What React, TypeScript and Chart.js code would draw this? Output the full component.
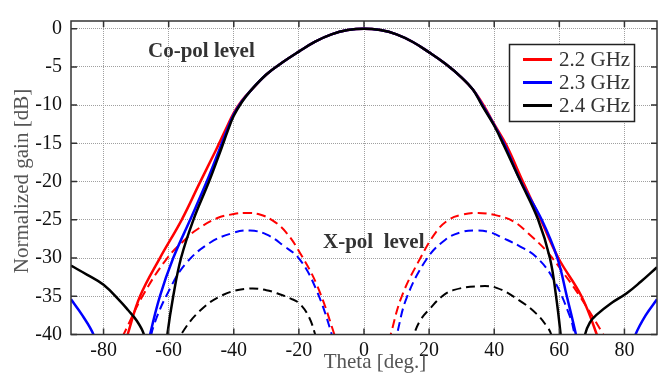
import { useEffect, useRef } from "react";
import { Chart, registerables } from "chart.js";
Chart.register(...registerables);

const xTicks = [-80, -60, -40, -20, 0, 20, 40, 60, 80];
const yTicks = [0, -5, -10, -15, -20, -25, -30, -35, -40];
const seriesLabels = ["2.2 GHz", "2.3 GHz", "2.4 GHz"];
const seriesColors = ["#ff0000", "#0000ff", "#000000"];

// Co-pol (solid)
const coTheta22 = [-75, -72.6, -68.8, -62.7, -56, -50.5, -45.5, -42.5, -40, -37.5, -35, -30, -25, -20, -15, -10, -5, 0, 5, 10, 15, 20, 25, 30, 33.5, 36.7, 40, 43.8, 48.8, 54.3, 59.7, 66.8, 71.5, 74];
const coGain22 = [-43.5, -40, -35, -30, -25, -20.2, -15.9, -13.2, -11.0, -9.4, -8.2, -6.0, -4.4, -3.0, -1.7, -0.75, -0.19, 0, -0.19, -0.75, -1.75, -3.1, -4.6, -6.4, -8.0, -10, -12.5, -15.3, -20, -25, -30, -35, -40, -43.5];

const coTheta23 = [-90, -86.5, -83.1, -82, -67, -65.7, -62.7, -58.6, -53.4, -48.3, -44.5, -42, -40, -37.5, -35, -30, -25, -20, -15, -10, -5, 0, 5, 10, 15, 20, 25, 30, 33.5, 36.4, 40, 43.3, 48.2, 54.6, 59.4, 62.3, 65.1, 66.5, 82, 83.4, 86.5, 90];
const coGain23 = [-35.4, -37.5, -40, -42, -43, -40, -35, -30, -25, -20, -15.9, -13.2, -11.2, -9.5, -8.2, -6.0, -4.4, -3.0, -1.7, -0.75, -0.19, 0, -0.19, -0.75, -1.75, -3.1, -4.6, -6.4, -8.0, -10, -12.6, -15.3, -20, -25, -30, -35, -40, -43, -42, -40, -37.5, -35.4];

const coTheta24 = [-90, -85, -80, -75, -72.5, -69.8, -67.6, -66.5, -61, -60.4, -58.6, -56.2, -52.4, -47.6, -44, -41.8, -40, -37.5, -35, -30, -25, -20, -15, -10, -5, 0, 5, 10, 15, 20, 25, 30, 33.5, 36.2, 40, 43, 48.1, 53.5, 57.1, 59, 60.4, 61, 66.8, 67.9, 69.4, 71.5, 75.6, 80.7, 85, 90];
const coGain24 = [-31, -32.2, -33.5, -35.6, -36.8, -38.2, -40, -43, -43, -40, -35, -30, -25, -20, -15.9, -13.3, -11.4, -9.6, -8.2, -6.0, -4.4, -3.0, -1.7, -0.75, -0.19, 0, -0.19, -0.75, -1.75, -3.1, -4.6, -6.4, -8.0, -10, -12.7, -15.3, -20, -25, -30, -35, -40, -43, -43, -40, -38.4, -37.4, -36.0, -34.6, -33.1, -31.2];

// X-pol (dashed)
const xTheta22 = [-76, -73.4, -67.8, -60.6, -55, -51.4, -45.2, -40, -36, -32, -28, -24, -19.7, -14.5, -9.1, -8, 7, 8.2, 11.6, 17.2, 22.3, 26, 29.5, 34.6, 40, 45.9, 50.5, 56.1, 61, 66.3, 73.5, 75];
const xGain22 = [-42, -39.6, -34.8, -30.1, -27.6, -26.3, -24.8, -24.25, -24.1, -24.3, -25.1, -26.6, -29.3, -33.5, -40, -42, -42, -40, -35, -30.1, -26.5, -25.0, -24.4, -24.1, -24.35, -25.2, -26.8, -29.1, -31.8, -35, -40, -41.3];

const xTheta23 = [-66, -64.7, -59.6, -54.5, -47.3, -40.1, -35, -30, -25, -19.7, -14.5, -9.9, -9, 9, 10.1, 13.1, 19.3, 25, 30, 34.1, 38.5, 42.8, 48, 53, 58.1, 63.3, 64.7, 65.5];
const xGain23 = [-42, -39, -34.0, -30.6, -28, -26.7, -26.4, -26.9, -28.3, -30.2, -34.3, -40, -42, -42, -40, -35.2, -30.1, -27.6, -26.6, -26.4, -26.6, -27.4, -28.5, -29.9, -32.7, -37.7, -40, -41.5];

const xTheta24 = [-57.5, -56.2, -50.4, -43.2, -35.5, -30, -26.8, -22.5, -19.7, -16.8, -15, -14, 14.2, 15.3, 17.5, 20.3, 24, 27.4, 34.6, 40.7, 47.9, 53, 56.6, 57.5, 58.5];
const xGain24 = [-41.5, -40, -36.9, -34.8, -34.0, -34.2, -34.6, -35.3, -36.0, -37.8, -40, -41.5, -41.5, -40, -38, -36.6, -35, -34.2, -33.7, -33.9, -35.6, -37.3, -39.2, -40, -41.5];

const SERIF = "'Liberation Serif', 'Times New Roman', serif";

function pts(t: number[], g: number[]) {
  return t.map((x, i) => ({ x, y: g[i] }));
}

export default function App() {
  const ref = useRef<HTMLCanvasElement>(null);
  useEffect(() => {
    document.body.style.margin = "0";
    const coSets = [pts(coTheta22, coGain22), pts(coTheta23, coGain23), pts(coTheta24, coGain24)];
    const xSets = [pts(xTheta22, xGain22), pts(xTheta23, xGain23), pts(xTheta24, xGain24)];
    const datasets: any[] = [];
    for (let i = 2; i >= 0; i--) {
      datasets.push({
        label: seriesLabels[i],
        data: coSets[i],
        borderColor: seriesColors[i],
        borderWidth: 2.5,
        pointRadius: 0,
        tension: 0.4,
        clip: 0,
      });
    }
    for (let i = 2; i >= 0; i--) {
      datasets.push({
        label: seriesLabels[i],
        data: xSets[i],
        borderColor: seriesColors[i],
        borderWidth: 2,
        borderDash: [9, 5],
        pointRadius: 0,
        tension: 0.4,
        clip: 0,
      });
    }

    const decor = {
      id: "decor",
      afterDraw(chart: any) {
        const ctx = chart.ctx as CanvasRenderingContext2D;
        const a = chart.chartArea;
        const xs = chart.scales.x;
        const ys = chart.scales.y;
        ctx.save();
        ctx.strokeStyle = "#333";
        ctx.lineWidth = 1.5;
        ctx.strokeRect(a.left, a.top, a.right - a.left, a.bottom - a.top);
        ctx.beginPath();
        const tl = 6;
        xTicks.forEach((v) => {
          const px = xs.getPixelForValue(v);
          ctx.moveTo(px, a.bottom);
          ctx.lineTo(px, a.bottom - tl);
          ctx.moveTo(px, a.top);
          ctx.lineTo(px, a.top + tl);
        });
        yTicks.forEach((v) => {
          const py = ys.getPixelForValue(v);
          ctx.moveTo(a.left, py);
          ctx.lineTo(a.left + tl, py);
          ctx.moveTo(a.right, py);
          ctx.lineTo(a.right - tl, py);
        });
        ctx.stroke();

        ctx.fillStyle = "#333";
        ctx.font = `bold 21px ${SERIF}`;
        ctx.textAlign = "left";
        ctx.textBaseline = "alphabetic";
        ctx.fillText("Co-pol level", 148, 56.5);
        ctx.fillText("X-pol  level", 323, 248);

        ctx.fillStyle = "#555";
        ctx.font = `21px ${SERIF}`;
        ctx.textAlign = "center";
        ctx.fillText("Theta [deg.]", 375, 368);
        ctx.save();
        ctx.translate(28, 181);
        ctx.rotate(-Math.PI / 2);
        ctx.fillText("Normalized gain [dB]", 0, 0);
        ctx.restore();

        const lx = 509.5, ly = 44.5, lw = 125, lh = 77;
        ctx.fillStyle = "#fff";
        ctx.fillRect(lx, ly, lw, lh);
        ctx.strokeStyle = "#222";
        ctx.lineWidth = 1.5;
        ctx.strokeRect(lx, ly, lw, lh);
        ctx.font = `21px ${SERIF}`;
        ctx.textAlign = "left";
        ctx.textBaseline = "middle";
        for (let i = 0; i < 3; i++) {
          const yy = 59.5 + i * 23;
          ctx.strokeStyle = seriesColors[i];
          ctx.lineWidth = 3;
          ctx.beginPath();
          ctx.moveTo(523, yy);
          ctx.lineTo(552, yy);
          ctx.stroke();
          ctx.fillStyle = "#333";
          ctx.fillText(seriesLabels[i], 559, yy + 1);
        }
        ctx.restore();
      },
    };

    const chart = new Chart(ref.current!, {
      type: "line",
      data: { datasets },
      plugins: [decor],
      options: {
        animation: false,
        responsive: false,
        maintainAspectRatio: false,
        parsing: false as any,
        layout: { padding: { top: 12, right: 7, left: 0, bottom: 0 } },
        plugins: { legend: { display: false }, tooltip: { enabled: false } },
        scales: {
          x: {
            type: "linear",
            min: -90,
            max: 90,
            afterBuildTicks: (s: any) => {
              s.ticks = xTicks.map((v) => ({ value: v }));
            },
            afterFit: (s: any) => {
              s.height = 41.5;
            },
            ticks: { font: { family: SERIF, size: 20 }, color: "#111", padding: 4, maxRotation: 0, autoSkip: false },
            grid: { color: "#a0a0a0", lineWidth: 1, drawTicks: false },
            border: { display: false, dash: [1, 1] },
          },
          y: {
            type: "linear",
            min: -40,
            max: 1,
            afterBuildTicks: (s: any) => {
              s.ticks = yTicks.map((v) => ({ value: v }));
            },
            afterFit: (s: any) => {
              s.width = 71;
            },
            ticks: { font: { family: SERIF, size: 20 }, color: "#111", padding: 9, autoSkip: false },
            grid: { color: "#a0a0a0", lineWidth: 1, drawTicks: false },
            border: { display: false, dash: [1, 1] },
          },
        },
      } as any,
    });
    return () => chart.destroy();
  }, []);
  return (
    <div style={{ position: "fixed", left: 0, top: 0, width: 664, height: 376 }}>
      <canvas ref={ref} width={664} height={376} style={{ width: 664, height: 376 }} />
    </div>
  );
}
